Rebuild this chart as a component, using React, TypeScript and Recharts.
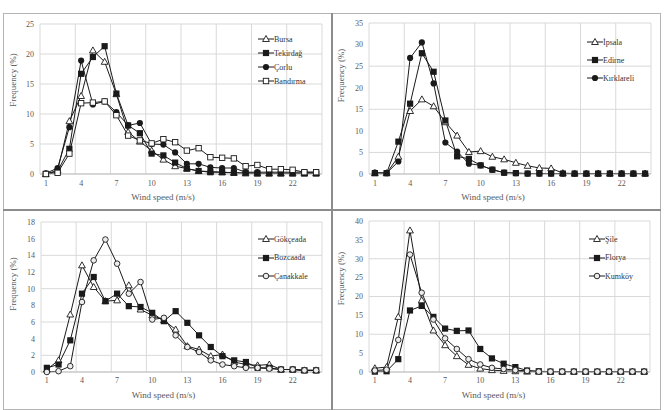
import { CartesianGrid, Label, Legend, Line, LineChart, ReferenceLine, XAxis, YAxis } from "recharts";

const speeds = [1, 2, 3, 4, 5, 6, 7, 8, 9, 10, 11, 12, 13, 14, 15, 16, 17, 18, 19, 20, 21, 22, 23, 24];
const xTicks = [1, 4, 7, 10, 13, 16, 19, 22];
const gridEdges = [0.5, 3.5, 6.5, 9.5, 12.5, 15.5, 18.5, 21.5, 24.5];

// Marmara north-west
const bursa = [0, 0.6, 8.8, 13.0, 20.6, 18.7, 13.3, 7.0, 5.4, 3.9, 2.4, 1.3, 0.9, 0.5, 0.4, 0.3, 0.2, 0.1, 0.1, 0.1, 0.1, 0.1, 0.1, 0.1];
const tekirdag = [0, 0.5, 4.2, 16.7, 19.5, 21.3, 13.4, 8.1, 6.8, 3.4, 3.1, 1.9, 0.9, 0.5, 0.3, 0.3, 0.2, 0.2, 0.1, 0.1, 0.1, 0.1, 0.1, 0.1];
const corlu = [0.1, 1.0, 7.8, 18.9, 11.6, 12.1, 10.3, 8.1, 8.5, 5.0, 4.9, 3.6, 1.7, 1.7, 1.1, 1.0, 1.0, 0.3, 0.3, 0.3, 0.3, 0.3, 0.3, 0.3];
const bandirma = [0, 0.2, 3.4, 11.8, 11.9, 12.1, 9.8, 6.4, 5.6, 5.1, 5.8, 5.3, 3.9, 4.3, 2.8, 2.7, 2.6, 1.3, 1.5, 0.8, 0.8, 0.7, 0.3, 0.3];

// Thrace
const ipsala = [0.2, 0.2, 4.0, 14.6, 17.3, 15.7, 12.0, 8.9, 5.1, 5.3, 4.0, 3.4, 2.6, 1.9, 1.4, 1.3, 0.2, 0.1, 0.1, 0.1, 0.1, 0.1, 0.1, 0.1];
const edirne = [0.2, 0.2, 7.5, 16.3, 28.0, 23.7, 12.4, 4.1, 3.5, 2.0, 1.0, 0.3, 0.2, 0.1, 0.1, 0.1, 0.1, 0.1, 0.1, 0.1, 0.1, 0.1, 0.1, 0.1];
const kirklareli = [0.3, 0.2, 2.9, 26.9, 30.5, 21.0, 7.3, 5.2, 2.4, 2.0, 1.0, 0.3, 0.2, 0.1, 0.1, 0.1, 0.1, 0.1, 0.1, 0.1, 0.1, 0.1, 0.1, 0.1];

// Çanakkale region
const gokceada = [0.3, 1.4, 6.9, 12.8, 10.2, 8.5, 8.6, 10.4, 7.5, 6.8, 6.2, 5.1, 3.1, 2.7, 1.9, 2.1, 1.2, 0.9, 0.8, 0.9, 0.3, 0.3, 0.2, 0.2];
const bozcaada = [0.5, 0.9, 3.8, 9.4, 11.4, 8.5, 9.4, 7.9, 7.8, 7.1, 6.1, 7.3, 5.9, 4.4, 3.0, 1.9, 1.4, 1.2, 0.5, 0.5, 0.3, 0.3, 0.2, 0.2];
const canakkale = [0.0, 0.1, 0.7, 8.4, 13.4, 15.9, 13.0, 9.4, 10.8, 6.3, 6.5, 4.4, 3.0, 2.4, 1.4, 0.9, 0.7, 0.5, 0.5, 0.4, 0.3, 0.3, 0.2, 0.2];

// Istanbul
const sile = [1.0, 1.3, 14.6, 37.5, 19.0, 11.0, 7.1, 4.2, 1.9, 0.9, 0.5, 0.3, 0.2, 0.1, 0.1, 0.1, 0.1, 0.1, 0.1, 0.1, 0.1, 0.1, 0.1, 0.1];
const florya = [0.1, 0.2, 3.4, 16.3, 17.5, 14.6, 11.5, 10.9, 11.0, 6.1, 3.6, 2.2, 1.3, 0.4, 0.2, 0.1, 0.1, 0.1, 0.1, 0.1, 0.1, 0.1, 0.1, 0.1];
const kumkoy = [0.4, 0.6, 8.5, 31.1, 21.0, 13.9, 8.9, 6.1, 3.4, 2.0, 1.1, 0.8, 0.5, 0.3, 0.1, 0.1, 0.1, 0.1, 0.1, 0.1, 0.1, 0.1, 0.1, 0.1];

type Shape = "triangle" | "square" | "circle" | "openSquare" | "openCircle";
type Series = { key: string; name: string; values: number[]; shape: Shape };

type Panel = {
  left: number;
  top: number;
  width: number;
  height: number;
  margin: { top: number; right: number; bottom: number; left: number };
  yTicks: number[];
  series: Series[];
  legendLeft: number;
  legendTop: number;
  legendRow: number;
  yLabelX: number;
  yLabelShift: number;
  xLabelShift: number;
  xTickGap: number;
};

const FONT = '"Liberation Serif", "Times New Roman", serif';
const INK = "#1a1a1a";
const TEXT = "#595959";

const panels: Panel[] = [
  {
    left: 3, top: 13, width: 329, height: 197,
    margin: { top: 11, right: 10, bottom: 6, left: 7 },
    yTicks: [0, 5, 10, 15, 20, 25],
    series: [
      { key: "bursa", name: "Bursa", values: bursa, shape: "triangle" },
      { key: "tekirdag", name: "Tekirdağ", values: tekirdag, shape: "square" },
      { key: "corlu", name: "Çorlu", values: corlu, shape: "circle" },
      { key: "bandirma", name: "Bandırma", values: bandirma, shape: "openSquare" }
    ],
    legendLeft: 255, legendTop: 19, legendRow: 14,
    yLabelX: 10, yLabelShift: -19, xLabelShift: -18, xTickGap: 6
  },
  {
    left: 332, top: 13, width: 328, height: 197,
    margin: { top: 10, right: 9, bottom: 6, left: 7 },
    yTicks: [0, 5, 10, 15, 20, 25, 30, 35],
    series: [
      { key: "ipsala", name: "İpsala", values: ipsala, shape: "triangle" },
      { key: "edirne", name: "Edirne", values: edirne, shape: "square" },
      { key: "kirklareli", name: "Kırklareli", values: kirklareli, shape: "circle" }
    ],
    legendLeft: 255, legendTop: 20, legendRow: 18,
    yLabelX: 9, yLabelShift: -23, xLabelShift: -17, xTickGap: 6
  },
  {
    left: 3, top: 210, width: 329, height: 199,
    margin: { top: 12, right: 10, bottom: 7, left: 8 },
    yTicks: [0, 2, 4, 6, 8, 10, 12, 14, 16, 18],
    series: [
      { key: "gokceada", name: "Gökçeada", values: gokceada, shape: "triangle" },
      { key: "bozcaada", name: "Bozcaada", values: bozcaada, shape: "square" },
      { key: "canakkale", name: "Çanakkale", values: canakkale, shape: "openCircle" }
    ],
    legendLeft: 255, legendTop: 20, legendRow: 18.5,
    yLabelX: 10, yLabelShift: -13, xLabelShift: -18, xTickGap: 5
  },
  {
    left: 332, top: 210, width: 328, height: 199,
    margin: { top: 11, right: 10, bottom: 7, left: 7 },
    yTicks: [0, 5, 10, 15, 20, 25, 30, 35, 40],
    series: [
      { key: "sile", name: "Şile", values: sile, shape: "triangle" },
      { key: "florya", name: "Florya", values: florya, shape: "square" },
      { key: "kumkoy", name: "Kumköy", values: kumkoy, shape: "openCircle" }
    ],
    legendLeft: 257, legendTop: 20, legendRow: 18.5,
    yLabelX: 9, yLabelShift: -18, xLabelShift: -16, xTickGap: 5
  }
];

function Marker({ cx, cy, shape }: { cx: number; cy: number; shape: Shape }) {
  const h = 3.1;
  if (shape === "triangle") {
    return (
      <polygon
        points={`${cx},${cy - h - 0.4} ${cx - h - 0.3},${cy + h - 0.6} ${cx + h + 0.3},${cy + h - 0.6}`}
        fill="#fff"
        stroke={INK}
        strokeWidth={0.9}
      />
    );
  }
  if (shape === "square") return <rect x={cx - h} y={cy - h} width={h * 2} height={h * 2} fill={INK} />;
  if (shape === "openSquare")
    return <rect x={cx - h + 0.4} y={cy - h + 0.4} width={h * 2 - 0.8} height={h * 2 - 0.8} fill="#fff" stroke={INK} strokeWidth={0.9} />;
  if (shape === "circle") return <circle cx={cx} cy={cy} r={h} fill={INK} />;
  return <circle cx={cx} cy={cy} r={h - 0.3} fill="#ececec" stroke={INK} strokeWidth={0.9} />;
}

function LegendBox({ series, row }: { series: Series[]; row: number }) {
  return (
    <div style={{ fontFamily: FONT, fontSize: 8, color: "#333" }}>
      {series.map((s) => (
        <div key={s.key} style={{ display: "flex", alignItems: "center", height: row }}>
          <svg width={16} height={8} style={{ flex: "none" }}>
            <line x1={0} y1={4} x2={16} y2={4} stroke={INK} strokeWidth={1} />
            <Marker cx={8} cy={4} shape={s.shape} />
          </svg>
          <span style={{ whiteSpace: "nowrap" }}>{s.name}</span>
        </div>
      ))}
    </div>
  );
}

function PanelChart({ panel }: { panel: Panel }) {
  const data = speeds.map((speed, i) => {
    const row: Record<string, number> = { speed };
    panel.series.forEach((s) => {
      row[s.key] = s.values[i];
    });
    return row;
  });
  const yMax = panel.yTicks[panel.yTicks.length - 1];

  return (
    <div style={{ position: "absolute", left: panel.left, top: panel.top }}>
      <LineChart width={panel.width} height={panel.height} data={data} margin={panel.margin}>
        <CartesianGrid vertical={false} stroke="#d9d9d9" strokeWidth={1} />
        {gridEdges.map((x) => (
          <ReferenceLine key={x} x={x} stroke="#d9d9d9" strokeWidth={1} />
        ))}
        <XAxis
          dataKey="speed"
          type="number"
          domain={[0.5, 24.5]}
          ticks={xTicks}
          height={30}
          tickLine={false}
          tickSize={0}
          tickMargin={panel.xTickGap}
          stroke="#bfbfbf"
          tick={{ fill: TEXT, fontSize: 8, fontFamily: FONT }}
        >
          <Label
            value="Wind speed (m/s)"
            position="insideBottom"
            offset={4}
            dx={panel.xLabelShift}
            style={{ fill: TEXT, fontSize: 9, fontFamily: FONT }}
          />
        </XAxis>
        <YAxis
          type="number"
          domain={[0, yMax]}
          ticks={panel.yTicks}
          width={30}
          axisLine={false}
          tickLine={false}
          tickSize={0}
          tickMargin={6}
          tick={{ fill: TEXT, fontSize: 8, fontFamily: FONT }}
        >
          <Label
            content={(p: any) => {
              const vb = p.viewBox || {};
              const y = (vb.y ?? 0) + (vb.height ?? 0) / 2 + panel.yLabelShift;
              return (
                <text
                  x={panel.yLabelX}
                  y={y}
                  transform={`rotate(-90 ${panel.yLabelX} ${y})`}
                  textAnchor="middle"
                  dominantBaseline="central"
                  fill={TEXT}
                  fontSize={9}
                  fontFamily={FONT}
                >
                  Frequency (%)
                </text>
              );
            }}
          />
        </YAxis>
        <Legend
          layout="horizontal"
          align="center"
          verticalAlign="middle"
          wrapperStyle={{ left: panel.legendLeft, top: panel.legendTop, width: "auto" }}
          content={() => <LegendBox series={panel.series} row={panel.legendRow} />}
        />
        {panel.series.map((s) => (
          <Line
            key={s.key}
            type="linear"
            dataKey={s.key}
            name={s.name}
            stroke={INK}
            strokeWidth={1}
            isAnimationActive={false}
            dot={(p: any) => <Marker key={`${s.key}-${p.index}`} cx={p.cx} cy={p.cy} shape={s.shape} />}
            activeDot={false}
          />
        ))}
      </LineChart>
    </div>
  );
}

export default function App() {
  return (
    <div style={{ position: "absolute", left: 0, top: 0, width: 669, height: 410, background: "#fff", overflow: "hidden" }}>
      <div style={{ position: "absolute", left: 3, top: 13, width: 656, height: 395, border: "1px solid #b4b4b4" }} />
      <div style={{ position: "absolute", left: 331, top: 13, width: 2, height: 397, background: "#8c8c8c" }} />
      <div style={{ position: "absolute", left: 3, top: 209, width: 658, height: 2, background: "#8c8c8c" }} />
      {panels.map((panel, i) => (
        <PanelChart key={i} panel={panel} />
      ))}
    </div>
  );
}
